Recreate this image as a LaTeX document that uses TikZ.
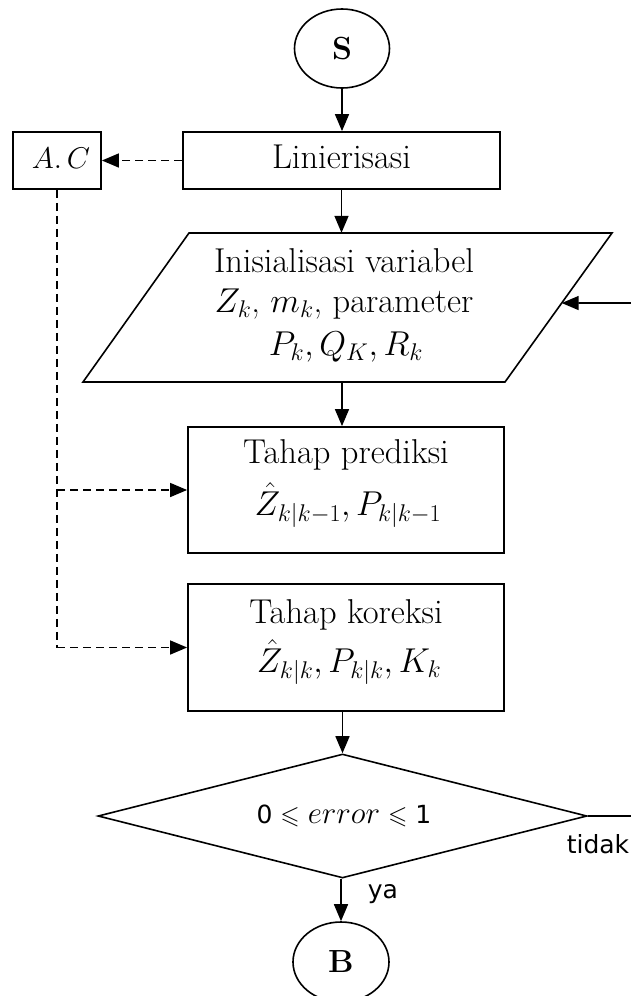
\RequirePackage{fix-cm}
\documentclass[tikz,border=0pt]{standalone}
\usepackage{amssymb}
\usepackage{fontspec}
\setsansfont{DejaVu Sans}
\usetikzlibrary{arrows.meta,calc,shapes.geometric}
\tikzset{
  box/.style={draw, line width=1.8pt, rectangle, inner sep=0pt},
  oval/.style={draw, ellipse, line width=1.6pt, inner sep=0pt, font=\bfseries\fontsize{32}{34}\selectfont},
  arr/.style={line width=1.6pt, -{Triangle[length=17pt,width=14pt]}},
  darr/.style={line width=1.5pt, dash pattern=on 8pt off 5pt, -{Triangle[length=17pt,width=14pt]}},
  dline/.style={line width=1.5pt, dash pattern=on 8pt off 5pt},
  plain/.style={line width=1.6pt},
  txt/.style={font=\fontsize{34.5}{44}\selectfont, inner sep=0pt, anchor=base},
  lbl/.style={font=\sffamily\fontsize{25}{28}\selectfont, inner sep=0pt, anchor=base}
}
\begin{document}
\begin{tikzpicture}[x=1pt,y=-1pt]
\useasboundingbox (0,0) rectangle (631,996);
\fill[white] (0,0) rectangle (631,996);

% start
\node[oval, minimum width=95pt, minimum height=79pt] (s) at (342,48.5) {S};

% Linierisasi and A.C
\node[box, minimum width=317pt, minimum height=57pt] (lin) at (341.5,160.5) {};
\node[txt] (lintxt) at (341.5,168) {Linierisasi};
\node[box, minimum width=88pt, minimum height=57pt] (ac) at (57,160.5) {};
\node[txt, font=\fontsize{30}{34}\selectfont] (actxt) at (61,168) {$A.\,C$};

% parallelogram
\node[inner sep=0pt, minimum width=317pt, minimum height=149pt] (par) at (342,307.5) {};
\coordinate (p1) at (189,233);
\coordinate (p2) at (612,233);
\coordinate (p3) at (505,382);
\coordinate (p4) at (83,382);
\draw[plain, line join=miter] (p1) -- (p2) -- (p3) -- (p4) -- cycle;
\node[txt] (par1) at (344,272) {Inisialisasi variabel};
\node[txt] (par2) at (344,312) {$Z_k$, $m_k$, parameter};
\node[txt] (par3) at (346,355) {$P_k,Q_K,R_k$};
\coordinate (rin) at (631,303);

% prediction
\node[box, minimum width=316pt, minimum height=126pt] (pred) at (346,490) {};
\node[txt] (pred1) at (346,463) {Tahap prediksi};
\node[txt] (pred2) at (348,515) {$\hat{Z}_{k|k-1},P_{k|k-1}$};

% correction
\node[box, minimum width=316pt, minimum height=127pt] (kor) at (346,647.5) {};
\node[txt] (kor1) at (346,623) {Tahap koreksi};
\node[txt] (kor2) at (349,672) {$\hat{Z}_{k|k},P_{k|k},K_k$};

% decision
\node[draw, diamond, line width=1.6pt, inner sep=0pt, aspect=3.94,
      minimum width=489pt, minimum height=124pt] (dec) at (342.5,816) {};
\node[lbl] (dectxt) at (344,823) {0 $\leqslant$ {\fontsize{31}{31}\selectfont$error$} $\leqslant$ 1};
\coordinate (rout) at (631,816);
\node[lbl] (tidak) at (598,853) {tidak};
\node[lbl] (ya) at (383,898) {ya};

% end
\node[oval, minimum width=96pt, minimum height=80pt] (b) at (341,962) {B};

% connectors
\draw[arr] (s.south) -- (s.south |- lin.north);
\draw[darr] (lin.west) -- (ac.east);
\draw[arr] (lin.south) -- (lin.south |- par.north);
\draw[arr] (rin) -- ($(p2)!0.47!(p3)$);
\draw[arr] (par.south) -- (par.south |- pred.north);
\draw[dline] (ac.south) -- (ac.south |- kor.west);
\draw[darr] (ac.south |- pred.west) -- (pred.west);
\draw[darr] (ac.south |- kor.west) -- (kor.west);
\draw[arr] (kor.south -| dec.north) -- (dec.north);
\draw[plain] (dec.east) -- (rout);
\draw[arr] (dec.south -| b.north) -- (b.north);
\end{tikzpicture}
\end{document}
